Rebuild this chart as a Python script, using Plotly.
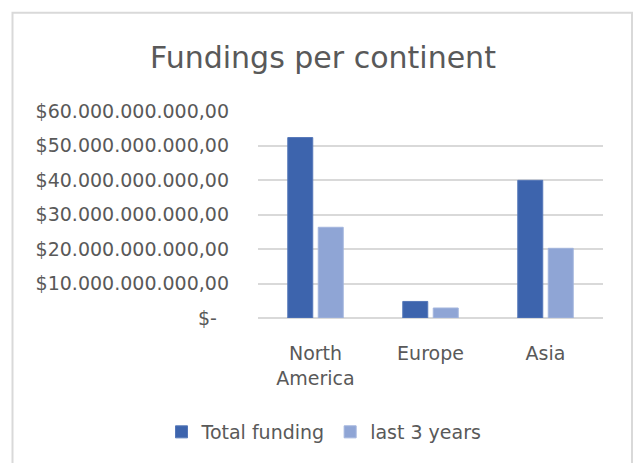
import plotly.graph_objects as go

# Funding totals per continent (USD)
continents = ["North<br>America", "Europe", "Asia"]
total_funding = [52.3e9, 4.8e9, 39.9e9]
last_3_years = [26.3e9, 2.9e9, 20.2e9]

# Y axis ticks in accounting format
y_tick_values = [0, 10e9, 20e9, 30e9, 40e9, 50e9, 60e9]
y_tick_labels = [
    "$-\u00a0\u00a0",
    "$10.000.000.000,00",
    "$20.000.000.000,00",
    "$30.000.000.000,00",
    "$40.000.000.000,00",
    "$50.000.000.000,00",
    "$60.000.000.000,00",
]

TEXT = "#595959"
GRID = "#d9d9d9"
FONT = "DejaVu Sans, sans-serif"

fig = go.Figure()
fig.add_trace(go.Bar(
    name="Total funding", x=continents, y=total_funding,
    marker=dict(color="#3D64AD", line=dict(color="#5577b8", width=1)),
))
fig.add_trace(go.Bar(
    name="last 3 years", x=continents, y=last_3_years,
    marker=dict(color="#8FA5D5", line=dict(color="#a3b5dd", width=1)),
))

W, H = 633, 463
left, right, top, bottom = 258, 603, 110.5, 318
pw, ph = right - left, bottom - top


def px_to_paper_x(px):
    return (px - left) / pw


def px_to_paper_y(py):
    return (bottom - py) / ph


fig.update_layout(
    width=W, height=H,
    margin=dict(l=left, r=W - right, t=top, b=H - bottom, pad=0),
    paper_bgcolor="white", plot_bgcolor="white",
    font=dict(family=FONT, color=TEXT, size=19),
    barmode="group", bargap=0.47, bargroupgap=0.18,
    title=dict(
        text="Fundings per continent",
        font=dict(family=FONT, size=30, color=TEXT),
        x=323 / W, xanchor="center", xref="container",
        y=1 - 57 / H, yanchor="middle", yref="container",
    ),
    showlegend=True,
    legend=dict(
        orientation="h", xref="container", yref="container",
        x=324 / W, xanchor="center", y=1 - 432 / H, yanchor="middle",
        font=dict(family=FONT, size=19, color=TEXT),
        itemclick=False,
    ),
    xaxis=dict(
        showgrid=False, showline=False, zeroline=False,
        ticks="", tickfont=dict(family=FONT, size=19, color=TEXT),
        ticklabelstandoff=22,
    ),
    yaxis=dict(
        range=[0, 60e9], tickvals=y_tick_values, ticktext=y_tick_labels,
        showgrid=True, gridcolor=GRID, gridwidth=1.5,
        zeroline=True, zerolinecolor=GRID, zerolinewidth=1.5,
        showline=False, ticks="",
        tickfont=dict(family=FONT, size=19, color=TEXT),
        ticklabelstandoff=28,
    ),
    shapes=[dict(
        type="rect", xref="paper", yref="paper", layer="below",
        x0=px_to_paper_x(12.5), x1=px_to_paper_x(632),
        y0=px_to_paper_y(475), y1=px_to_paper_y(12),
        line=dict(color=GRID, width=2), fillcolor="rgba(0,0,0,0)",
    )],
)

fig.write_html("out.html")
